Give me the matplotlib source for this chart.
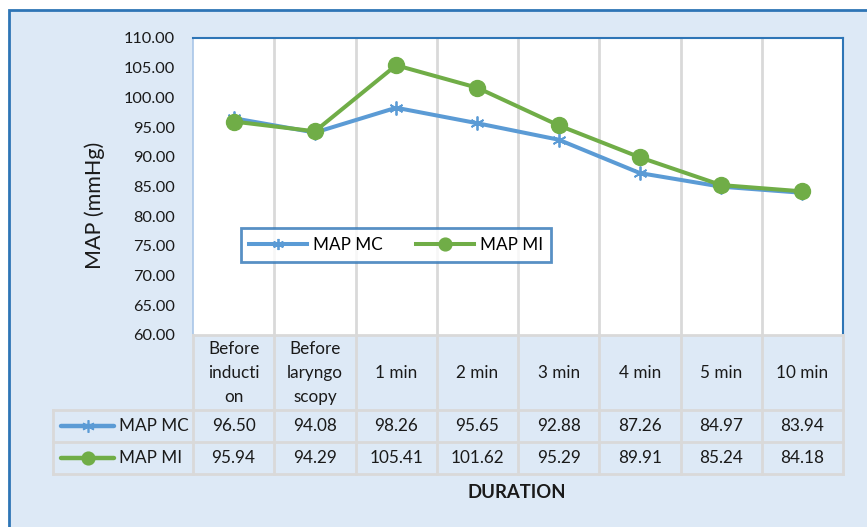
import matplotlib
matplotlib.use("Agg")
import matplotlib.pyplot as plt
from matplotlib.patches import Rectangle
from matplotlib.lines import Line2D
from matplotlib.transforms import blended_transform_factory

categories = ["Before\ninducti\non", "Before\nlaryngo\nscopy", "1 min", "2 min",
              "3 min", "4 min", "5 min", "10 min"]
map_mc = [96.50, 94.08, 98.26, 95.65, 92.88, 87.26, 84.97, 83.94]
map_mi = [95.94, 94.29, 105.41, 101.62, 95.29, 89.91, 85.24, 84.18]
series_names = ["MAP MC", "MAP MI"]
yticks = [60, 65, 70, 75, 80, 85, 90, 95, 100, 105, 110]

FONT = ["Lato", "DejaVu Sans"]
plt.rcParams["font.family"] = FONT

W, H = 867, 527
fig = plt.figure(figsize=(W / 100, H / 100), dpi=100)
fig.patch.set_facecolor("white")

def fx(px):
    return px / W

def fy(py):
    return 1 - py / H

BG = "#DDE9F6"
BORDER = "#2E75B6"
GRID = "#D9D9D9"
BLUE = "#5B9BD5"
GREEN = "#70AD47"
TXT = "#1a1a1a"
FS = 12.3

fig.add_artist(Rectangle((fx(8.5), fy(540)), fx(880), fy(9.5) - fy(540),
                         transform=fig.transFigure, facecolor=BG,
                         edgecolor=BORDER, linewidth=2, zorder=0))

L, R, T, B = 193, 843, 38, 335
ax = fig.add_axes([fx(L), fy(B), fx(R) - fx(L), fy(T) - fy(B)])
ax.set_facecolor("white")
x = list(range(len(categories)))

ax.plot(x, map_mc, color=BLUE, lw=2.9, marker=(6, 2, 0), markersize=10,
        markeredgewidth=1.3, markeredgecolor=BLUE, label=series_names[0], zorder=3)
ax.plot(x, map_mi, color=GREEN, lw=2.9, marker="o", markersize=11.5,
        markeredgecolor=GREEN, markerfacecolor=GREEN, label=series_names[1], zorder=4)

ax.set_xlim(-0.5, len(categories) - 0.5)
ax.set_ylim(60, 110)
ax.set_yticks(yticks)
ax.set_yticklabels([f"{v:.2f}" for v in yticks], fontsize=11.8, color=TXT)
ax.tick_params(axis="y", length=0, pad=13)
ax.set_xticks([])
for b in [i + 0.5 for i in range(len(categories) - 1)]:
    ax.axvline(b, color=GRID, lw=2, zorder=1)
ax.spines["left"].set_color("#A9C6E8")
ax.spines["left"].set_linewidth(1.2)
ax.spines["top"].set_color(BORDER)
ax.spines["top"].set_linewidth(1.5)
ax.spines["right"].set_color(BORDER)
ax.spines["right"].set_linewidth(1.5)
ax.spines["bottom"].set_color(GRID)
ax.spines["bottom"].set_linewidth(2)

fig.text(fx(95), fy(205), "MAP (mmHg)", rotation=90, ha="center", va="center",
         fontsize=15.5, color=TXT)

leg = ax.legend(loc="center", bbox_to_anchor=(fx(396), fy(245)),
                bbox_transform=fig.transFigure, ncol=2, fontsize=FS,
                frameon=True, fancybox=False, edgecolor=BORDER,
                handlelength=3.4, columnspacing=2.0, handletextpad=0.3,
                borderpad=0.5, markerscale=0.8)
leg.get_frame().set_linewidth(2)
leg.get_frame().set_facecolor("white")

# data table
tr = blended_transform_factory(ax.transData, fig.transFigure)
trf = fig.transFigure
row_y = [335, 410, 442, 474]
n = len(categories)
def hline(y, x0, x1, t):
    fig.add_artist(Line2D([x0, x1], [fy(y), fy(y)], transform=t, color=GRID, lw=2, zorder=1))
def vline(xv, y0, y1, t):
    fig.add_artist(Line2D([xv, xv], [fy(y0), fy(y1)], transform=t, color=GRID, lw=2, zorder=1))

for y in row_y[1:]:
    hline(y, fx(53), fx(843), trf)
vline(fx(53), 410, 474, trf)
for b in [i - 0.5 for i in range(n + 1)]:
    vline(b, 335, 474, tr)

for i, c in enumerate(categories):
    fig.text(i, fy(373), c, transform=tr, ha="center", va="center",
             fontsize=FS, linespacing=1.6, color=TXT)
    fig.text(i, fy(426), f"{map_mc[i]:.2f}", transform=tr, ha="center", va="center",
             fontsize=FS, color=TXT)
    fig.text(i, fy(458), f"{map_mi[i]:.2f}", transform=tr, ha="center", va="center",
             fontsize=FS, color=TXT)

for yy, name, col, mk, ms in [(426, series_names[0], BLUE, (6, 2, 0), 9),
                              (458, series_names[1], GREEN, "o", 9)]:
    fig.add_artist(Line2D([fx(61), fx(114)], [fy(yy), fy(yy)], transform=trf,
                          color=col, lw=3.2, solid_capstyle="round"))
    fig.add_artist(Line2D([fx(87.5)], [fy(yy)], transform=trf, color=col,
                          marker=mk, markersize=ms, markeredgecolor=col,
                          markerfacecolor=col, markeredgewidth=1.2))
    fig.text(fx(119), fy(yy), name, ha="left", va="center", fontsize=FS, color=TXT)

fig.text(fx(517), fy(492), "DURATION", ha="center", va="center", fontsize=13.3,
         fontweight="bold", color=TXT)

fig.savefig("out.png", dpi=100, facecolor=fig.get_facecolor())
